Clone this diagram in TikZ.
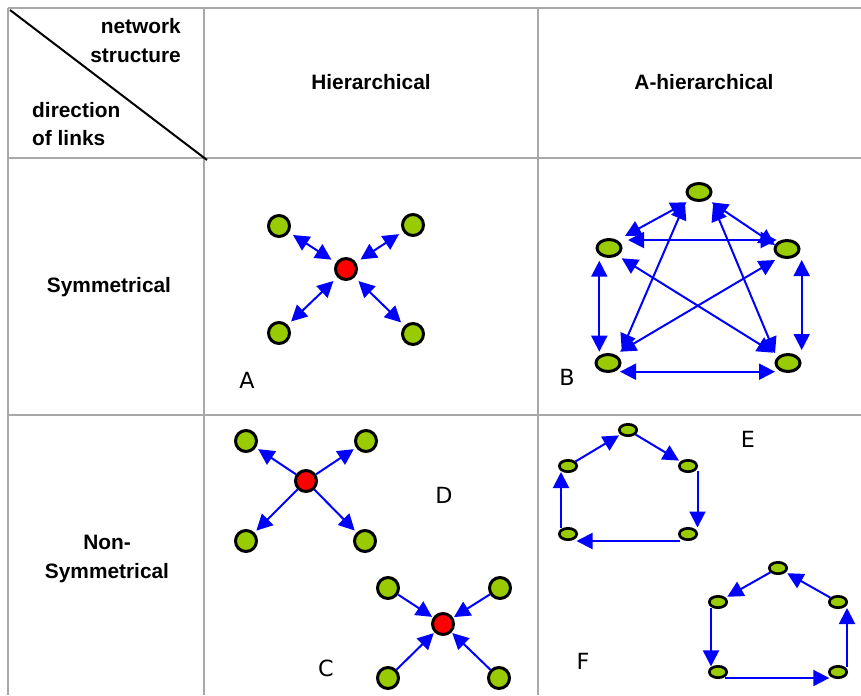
\documentclass[tikz,border=0pt]{standalone}
\usepackage{fontspec}
\setmainfont{Liberation Sans}
\newfontfamily\lblfont{DejaVu Sans}
\usepackage{xcolor}
\usetikzlibrary{arrows.meta,shapes.geometric,calc}

\definecolor{leafgreen}{HTML}{99CC00}
\definecolor{gridgray}{HTML}{A8A8A8}

\begin{document}
\begin{tikzpicture}[
  x=0.3mm, y=-0.3mm,
  grid/.style={draw=gridgray, line width=0.6mm},
  head/.style={font=\fontsize{17.8}{24.5}\selectfont\bfseries, inner sep=0pt},
  lbl/.style={font=\lblfont\fontsize{19}{22}\selectfont, inner sep=0pt},
  hub/.style={circle, draw=black, fill=red, line width=0.9mm, minimum size=6.3mm, inner sep=0pt},
  leaf/.style={circle, draw=black, fill=leafgreen, line width=0.9mm, minimum size=6.3mm, inner sep=0pt},
  oval/.style={ellipse, draw=black, fill=leafgreen, line width=0.9mm, minimum width=7.2mm, minimum height=5.1mm, inner sep=0pt},
  dot/.style={ellipse, draw=black, fill=leafgreen, line width=0.8mm, minimum width=5.2mm, minimum height=3.4mm, inner sep=0pt},
  tip/.tip={Triangle[length=4.8mm,width=4.8mm]},
  arr/.style={blue, line width=0.6mm, -tip},
  dbl/.style={blue, line width=0.6mm, tip-tip}
]
  \useasboundingbox (0,0) rectangle (861,695);

  % table lines
  \draw[grid] (8,8) -- (861,8);
  \draw[grid] (8,158) -- (861,158);
  \draw[grid] (8,415) -- (861,415);
  \draw[grid] (8,8) -- (8,695);
  \draw[grid] (204,8) -- (204,695);
  \draw[grid] (538,8) -- (538,695);
  \draw[black, line width=0.6mm] (10,10) -- (207,160);

  % headings
  \node[head, anchor=east, align=right] (nstruct) at (181,40.5) {network\\structure};
  \node[head, anchor=west, align=left] (dlinks) at (32,124) {direction\\of links};
  \node[head] (hhier) at (371,82) {Hierarchical};
  \node[head] (hahier) at (704,82) {A-hierarchical};
  \node[head] (rsym) at (109,287) {Symmetrical};
  \node[head, align=center] (rnonsym) at (107,559) {Non-\\Symmetrical};

  % A: symmetrical star
  \node[hub] (aH) at (346,269) {};
  \node[leaf] (aTL) at (279,226) {};
  \node[leaf] (aTR) at (413,225) {};
  \node[leaf] (aBL) at (279,333) {};
  \node[leaf] (aBR) at (413,334) {};
  \foreach \n in {aTL,aTR,aBL,aBR}
    \draw[dbl, shorten <=1.4mm, shorten >=1.6mm] (\n) -- (aH);
  \node[lbl] (labA) at (247,380) {A};

  % B: full mesh
  \node[oval] (bT) at (699,192) {};
  \node[oval] (bL) at (609,248) {};
  \node[oval] (bR) at (787,249) {};
  \node[oval] (bBL) at (608,363) {};
  \node[oval] (bBR) at (788,363) {};
  \draw[dbl] ($(bT)+(-12.3,10.3)$) -- ($(bL)+(16,-12)$);
  \draw[dbl] ($(bT)+(12.7,10.3)$) -- ($(bR)+(-12,-4)$);
  \draw[dbl] ($(bL)+(19,-8)$) -- ($(bR)+(-10.3,-9)$);
  \draw[dbl] ($(bL)+(-9.7,12.7)$) -- ($(bBL)+(-8.7,-11.3)$);
  \draw[dbl] ($(bR)+(14.7,11)$) -- ($(bBR)+(13.7,-13)$);
  \draw[dbl] ($(bBL)+(12,8.7)$) -- ($(bBR)+(-13,8.7)$);
  \draw[dbl] ($(bT)+(-14,11.3)$) -- ($(bBL)+(13.7,-13)$);
  \draw[dbl] ($(bT)+(14,13)$) -- ($(bBR)+(-13,-9.7)$);
  \draw[dbl] ($(bL)+(12.7,10.3)$) -- ($(bBR)+(-14.7,-10.3)$);
  \draw[dbl] ($(bR)+(-12,11)$) -- ($(bBL)+(12,-11.3)$);
  \node[lbl] (labB) at (567,377) {B};

  % D: outward star
  \node[hub] (dH) at (306,481) {};
  \node[leaf] (dTL) at (246,441) {};
  \node[leaf] (dTR) at (366,441) {};
  \node[leaf] (dBL) at (246,541) {};
  \node[leaf] (dBR) at (365,541) {};
  \foreach \n in {dTL,dTR,dBL,dBR}
    \draw[arr, shorten >=0.8mm] (dH) -- (\n);
  \node[lbl] (labD) at (444,495) {D};

  % C: inward star
  \node[hub] (cH) at (443,624) {};
  \node[leaf] (cTL) at (388,588) {};
  \node[leaf] (cTR) at (500,588) {};
  \node[leaf] (cBL) at (388,678) {};
  \node[leaf] (cBR) at (499,678) {};
  \foreach \n in {cTL,cTR,cBL,cBR}
    \draw[arr, shorten >=0.3mm] (\n) -- (cH);
  \node[lbl] (labC) at (326,668) {C};

  % E: clockwise ring
  \node[dot] (eT) at (628,430) {};
  \node[dot] (eL) at (568,466) {};
  \node[dot] (eR) at (688,466) {};
  \node[dot] (eBL) at (568,534) {};
  \node[dot] (eBR) at (688,534) {};
  \draw[arr, shorten >=0.5mm] (eL) -- (eT);
  \draw[arr, shorten >=0.5mm] (eT) -- (eR);
  \draw[arr] ($(eR)+(9.5,5)$) -- ($(eBR)+(9.5,-6.5)$);
  \draw[arr] ($(eBR)+(-8,7)$) -- ($(eBL)+(8.5,7)$);
  \draw[arr] ($(eBL)+(-7,-6)$) -- ($(eL)+(-7,6)$);
  \node[lbl] (labE) at (748,439) {E};

  % F: counter-clockwise ring
  \node[dot] (fT) at (778,568) {};
  \node[dot] (fL) at (718,602) {};
  \node[dot] (fR) at (838,602) {};
  \node[dot] (fBL) at (718,672) {};
  \node[dot] (fBR) at (838,672) {};
  \draw[arr, shorten >=0.5mm] (fR) -- (fT);
  \draw[arr, shorten >=0.5mm] (fT) -- (fL);
  \draw[arr] ($(fL)+(-7,6)$) -- ($(fBL)+(-7,-5.6)$);
  \draw[arr] ($(fBL)+(7,6)$) -- ($(fBR)+(-8.7,6)$);
  \draw[arr] ($(fBR)+(9,-5.3)$) -- ($(fR)+(9,6)$);
  \node[lbl] (labF) at (583,661) {F};
\end{tikzpicture}
\end{document}
